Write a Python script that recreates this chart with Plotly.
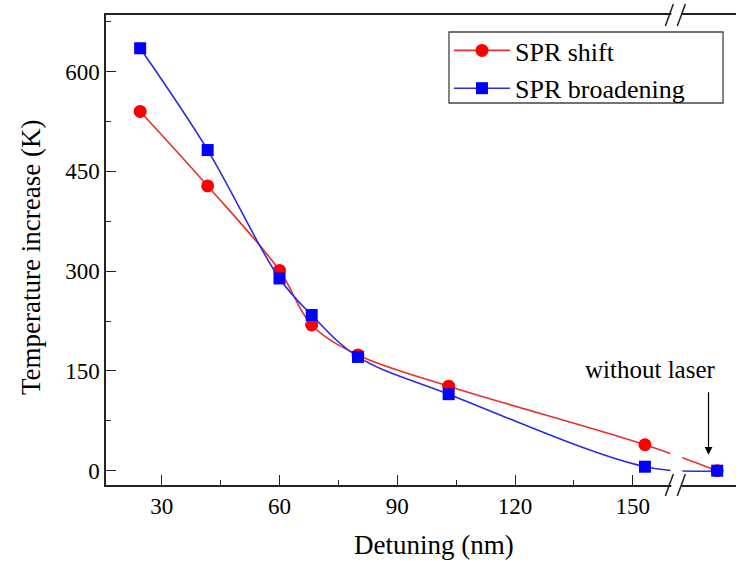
import plotly.graph_objects as go

# Data
detuning = [24.5, 41.7, 60.0, 68.2, 80.0, 103.1, 153.1, 171.5]
spr_shift = [540, 428, 301, 219, 174, 127, 39, 0]
spr_broadening = [635, 482, 289, 234, 171, 115, 6, 0]

x_ticks = [30, 60, 90, 120, 150]
x_minor = [45, 75, 105, 135]
y_ticks = [0, 150, 300, 450, 600]
y_minor = [75, 225, 375, 525, 675]

FONT = "Liberation Serif"
AXC = "#222222"
BREAK_X = 161.1

fig = go.Figure()
fig.add_trace(go.Scatter(
    x=detuning, y=spr_shift, name="SPR shift", mode="lines+markers",
    line=dict(color="#e8302c", width=1.6, shape="spline", smoothing=1.0),
    marker=dict(symbol="circle", size=13, color="#ff0000"),
    legendgroup="a"))
fig.add_trace(go.Scatter(
    x=detuning, y=spr_broadening, name="SPR broadening", mode="lines+markers",
    line=dict(color="#2b2be0", width=1.6, shape="spline", smoothing=1.0),
    marker=dict(symbol="square", size=12, color="#0000ff"),
    legendgroup="b"))

shapes = []
# legend frame
shapes.append(dict(type="rect", xref="paper", yref="paper", x0=0.5444, x1=0.9794,
                   y0=0.8128, y1=0.9638, fillcolor="white",
                   line=dict(color="#444444", width=1.3), layer="below"))
# gap in the curves at the axis break
shapes.append(dict(type="rect", xref="x", yref="y", xsizemode="pixel", xanchor=BREAK_X,
                   x0=-6, x1=6, y0=-4, y1=70, fillcolor="white", line=dict(width=0), layer="above"))
# axis breaks on bottom and top lines
for ya in (0, 1):
    shapes.append(dict(type="rect", xref="x", yref="paper", xsizemode="pixel", ysizemode="pixel",
                       xanchor=BREAK_X, yanchor=ya, x0=-5, x1=5, y0=-2.5, y1=2.5,
                       fillcolor="white", line=dict(width=0), layer="above"))
    for dx in (-7, 5):
        shapes.append(dict(type="line", xref="x", yref="paper", xsizemode="pixel", ysizemode="pixel",
                           xanchor=BREAK_X, yanchor=ya, x0=dx - 4, x1=dx + 4, y0=-11, y1=11,
                           line=dict(color=AXC, width=1.5), layer="above"))

annotations = [
    dict(x=169.3, y=24, xref="x", yref="y", ax=0, ay=-64, axref="pixel", ayref="pixel",
         showarrow=True, arrowhead=2, arrowsize=1.3, arrowwidth=1.2, arrowcolor="black", text=""),
    dict(x=154.5, y=152, xref="x", yref="y", text="without laser", showarrow=False,
         font=dict(family=FONT, size=25, color="black"), xanchor="center", yanchor="middle"),
    dict(x=99.3, y=0, xref="x", yref="paper", yshift=-60, text="Detuning (nm)", showarrow=False,
         font=dict(family=FONT, size=27, color="black"), xanchor="center", yanchor="middle"),
    dict(x=0, y=0.5, xref="paper", yref="paper", xshift=-75, yshift=-8,
         text="Temperature increase (K)",
         textangle=-90, showarrow=False, font=dict(family=FONT, size=27, color="black"),
         xanchor="center", yanchor="middle"),
]

fig.update_layout(
    width=736, height=563,
    margin=dict(l=106, r=0, t=15, b=78),
    paper_bgcolor="white", plot_bgcolor="white",
    font=dict(family=FONT, color="black"),
    showlegend=True,
    legend=dict(x=0.5444, y=0.9745, xanchor="left", yanchor="top",
                bgcolor="rgba(0,0,0,0)", borderwidth=0, itemwidth=56,
                font=dict(family=FONT, size=26, color="black"),
                traceorder="grouped", tracegroupgap=1),
    shapes=shapes, annotations=annotations,
    xaxis=dict(range=[15.8, 176.3], tickmode="array", tickvals=x_ticks,
               ticks="inside", ticklen=10, tickwidth=1.3, tickcolor=AXC,
               minor=dict(tickmode="array", tickvals=x_minor, ticks="inside", ticklen=5,
                          tickwidth=1.3, tickcolor=AXC),
               showline=True, linecolor=AXC, linewidth=1.5, mirror=True,
               showgrid=False, zeroline=False,
               tickfont=dict(family=FONT, size=23, color="black")),
    yaxis=dict(range=[-21.5, 685], tickmode="array", tickvals=y_ticks,
               ticks="inside", ticklen=10, tickwidth=1.3, tickcolor=AXC,
               minor=dict(tickmode="array", tickvals=y_minor, ticks="inside", ticklen=5,
                          tickwidth=1.3, tickcolor=AXC),
               showline=True, linecolor=AXC, linewidth=1.5, mirror=False,
               showgrid=False, zeroline=False,
               tickfont=dict(family=FONT, size=23, color="black")),
)

fig.write_html("out.html")
